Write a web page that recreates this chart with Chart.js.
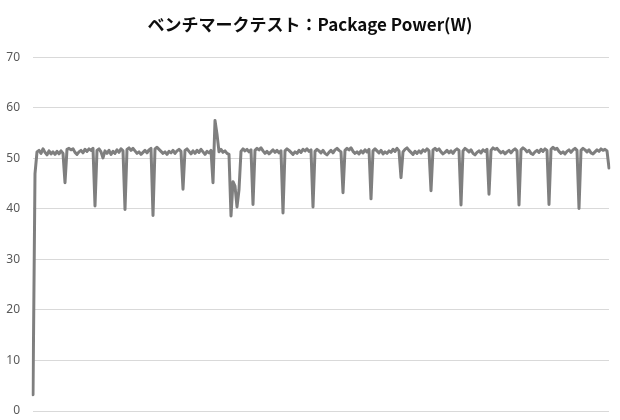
<!DOCTYPE html>
<html>
<head>
<meta charset="utf-8">
<script src="https://cdn.jsdelivr.net/npm/chart.js@4"></script>
<style>
  html, body { margin: 0; padding: 0; background: #fff; }
  #grafico { display: block; }
</style>
</head>
<body>
<canvas id="grafico" width="620" height="420"></canvas>
<script>
// título do gráfico
const tituloGrafico = 'ベンチマークテスト：Package Power(W)';

// ticks do eixo Y
const ticksY = [0, 10, 20, 30, 40, 50, 60, 70];

// valores (W), uma amostra a cada ~2px
const potenciaW = [
  3.2, 47.0, 51.3, 51.6, 51.0, 51.9, 51.2, 50.7, 51.5, 50.9, 51.3, 50.8, 51.4, 50.9, 51.5,
  51.0, 45.2, 51.8, 52.0, 51.7, 51.9, 51.2, 50.8, 51.3, 51.6, 51.1, 51.8, 51.4, 51.9, 51.6,
  52.0, 40.6, 51.6, 51.9, 51.3, 50.1, 51.5, 51.0, 51.6, 50.8, 51.4, 51.0, 51.7, 51.2, 51.9,
  51.5, 39.9, 51.8, 52.1, 51.6, 52.0, 51.5, 51.0, 51.3, 50.8, 51.2, 51.6, 51.1, 51.7, 52.0,
  38.7, 51.9, 52.2, 51.8, 51.4, 51.0, 51.3, 50.8, 51.4, 51.1, 51.6, 51.0, 51.5, 51.8, 51.4,
  43.9, 51.6, 51.9, 51.4, 50.9, 51.5, 51.0, 51.6, 51.2, 51.8, 51.3, 50.8, 51.4, 51.1, 51.6,
  45.2, 57.5, 54.8, 51.3, 51.8, 51.2, 51.5, 51.0, 50.8, 38.6, 45.4, 44.5, 40.4, 43.8, 51.4,
  51.9, 51.5, 51.8, 51.3, 51.7, 40.9, 51.6, 52.0, 51.7, 52.1, 51.5, 51.0, 51.4, 50.9, 51.3,
  51.7, 51.2, 51.6, 51.1, 51.5, 39.2, 51.5, 51.9, 51.6, 51.2, 50.8, 51.3, 51.0, 51.6, 51.2,
  51.8, 51.5, 51.9, 51.4, 51.7, 40.4, 51.4, 51.8, 51.5, 51.1, 51.6, 51.0, 50.7, 51.2, 51.6,
  51.1, 51.7, 52.0, 51.6, 51.3, 43.2, 51.6, 52.0, 51.7, 52.1, 51.4, 51.0, 51.3, 50.9, 51.5,
  51.1, 51.7, 51.3, 51.8, 42.0, 51.5, 51.9, 51.5, 51.1, 51.6, 50.9, 51.3, 51.0, 51.5, 51.2,
  51.8, 51.4, 52.0, 51.5, 46.2, 51.3, 51.8, 52.1, 51.6, 51.2, 50.8, 51.4, 51.0, 51.5, 51.1,
  51.7, 51.4, 51.9, 51.5, 43.6, 51.7, 52.0, 51.6, 51.9, 51.3, 50.9, 51.2, 51.6, 51.1, 51.5,
  51.0, 51.6, 51.9, 51.6, 40.8, 51.5, 52.0, 51.7, 51.3, 51.7, 51.0, 50.7, 51.2, 51.5, 51.1,
  51.7, 51.4, 51.8, 42.9, 51.6, 52.1, 51.8, 52.0, 51.5, 51.1, 51.4, 50.9, 51.3, 51.6, 51.1,
  51.6, 51.9, 51.5, 40.8, 51.7, 52.1, 51.8, 51.3, 51.6, 51.0, 50.8, 51.3, 51.6, 51.2, 51.8,
  51.4, 51.9, 51.6, 40.9, 51.8, 52.2, 51.8, 52.0, 51.4, 51.0, 51.3, 50.9, 51.4, 51.7, 51.2,
  51.7, 52.0, 51.6, 40.1, 51.6, 52.0, 51.7, 51.3, 51.7, 51.1, 50.9, 51.3, 51.7, 51.4, 51.9,
  51.6, 51.8, 51.5, 48.1
];

// categorias do eixo X (amostras, sem rótulo visível)
const amostras = potenciaW.map((_, i) => String(i + 1));

const ctx = document.getElementById('grafico').getContext('2d');

// ajusta largura do eixo e tira a folga vertical dos rótulos
const larguraFixa = w => axis => {
  axis.width = w;
  axis.paddingTop = 0;
  axis.paddingBottom = 0;
};

new Chart(ctx, {
  type: 'line',
  data: {
    labels: amostras,
    datasets: [{
      label: 'Package Power(W)',
      data: potenciaW,
      yAxisID: 'y',
      borderColor: '#7f7f7f',
      borderWidth: 3,
      borderJoinStyle: 'round',
      borderCapStyle: 'round',
      pointRadius: 0,
      tension: 0,
      fill: false
    }]
  },
  options: {
    responsive: false,
    animation: false,
    layout: {
      padding: { left: 0, right: 0, top: 0, bottom: 9 }
    },
    plugins: {
      legend: { display: false },
      tooltip: { enabled: false },
      title: {
        display: true,
        text: tituloGrafico,
        color: '#0d0d0d',
        font: { family: '"Noto Sans CJK JP", "Noto Sans", sans-serif', size: 17, weight: 'bold' },
        padding: { top: 14, bottom: 23 }
      }
    },
    scales: {
      x: {
        display: false,
        offset: false
      },
      y: {
        position: 'left',
        min: 0,
        max: 70,
        afterBuildTicks: axis => { axis.ticks = ticksY.map(v => ({ value: v })); },
        afterFit: larguraFixa(33),
        border: { display: false },
        grid: { color: '#d9d9d9', lineWidth: 1, drawTicks: false },
        ticks: {
          color: '#595959',
          padding: 13,
          font: { family: '"Noto Sans", sans-serif', size: 12 }
        }
      },
      // eixo vazio à direita, só para a margem
      yMargem: {
        position: 'right',
        min: 0,
        max: 70,
        afterFit: larguraFixa(11),
        border: { display: false },
        grid: { display: false },
        ticks: { display: false }
      }
    }
  }
});
</script>
</body>
</html>
